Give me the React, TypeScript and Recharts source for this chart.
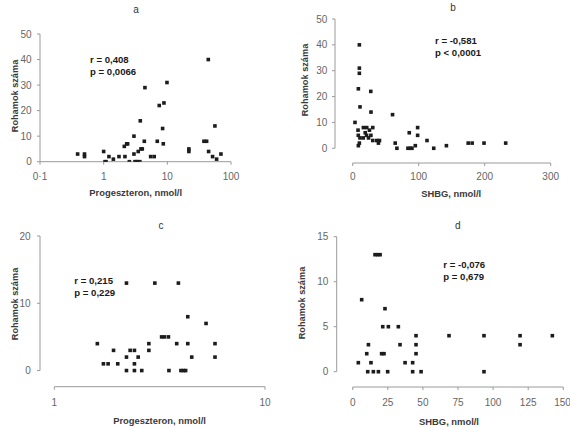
import React from 'react';
import { ScatterChart, Scatter, XAxis, YAxis, ReferenceLine } from 'recharts';

// ---- Panel a: Progeszteron (log) vs Rohamok száma ----
const aProg = [0.39, 0.5, 0.5, 1.0, 1.05, 1.09, 1.21, 1.42, 1.74, 2.11, 2.3, 2.38, 2.16, 2.53, 2.99, 2.99, 3.1, 3.25, 3.4, 3.7, 3.49, 3.76, 3.85, 4.04, 4.35, 4.45, 5.47, 6.22, 6.95, 7.47, 8.43, 8.64, 8.85, 9.87, 21.8, 21.8, 37.6, 41.4, 44, 44.5, 51.4, 55.9, 59.4, 69.5];
const aCount = [3, 3, 2, 4, 0, 0, 2, 1, 2, 6, 7, 7, 2, 0, 10, 3, 0, 0, 0, 0, 4, 16, 5, 5, 8, 29, 2, 2, 8, 22, 13, 7, 23, 31, 5, 4, 8, 8, 40, 4, 2, 14, 1, 3];

// ---- Panel b: SHBG vs Rohamok száma ----
const bShbg = [10.1, 10.1, 10.1, 8.6, 11.1, 27.4, 27.7, 60.4, 3.5, 8.1, 16.2, 21.3, 30.4, 8.5, 25.4, 27.6, 11, 21, 16, 30.4, 36.5, 39, 40.6, 8.6, 10.1, 64.4, 67, 83.7, 87.3, 89.8, 94.9, 85.7, 98.4, 98.4, 112.6, 122.8, 142, 175, 181, 199, 231.8, 19, 24];
const bCount = [40, 31, 29, 23, 16, 22, 14, 13, 10, 7, 8, 8, 8, 5, 7, 5, 4, 5, 4, 3, 3, 2, 3, 1, 2, 2, 0, 0, 0, 0, 1, 6, 8, 5, 3, 0, 1, 2, 2, 2, 2, 6, 4];

// ---- Panel c: Progeszteron (log) vs Rohamok száma ----
const cProg = [2.2, 3.0, 3.88, 4.3, 5.25, 3.23, 3.33, 3.48, 1.6, 2.81, 3.81, 4.3, 5.79, 1.91, 2.29, 2.4, 2.81, 2.2, 2.5, 4.49, 5.79, 1.71, 1.8, 2.0, 2.4, 2.2, 2.4, 2.6, 3.5, 3.99, 4.1, 4.2];
const cCount = [13, 13, 13, 8, 7, 5, 5, 5, 4, 4, 4, 4, 4, 3, 3, 3, 3, 2, 2, 2, 2, 1, 1, 1, 1, 0, 0, 0, 0, 0, 0, 0];

// ---- Panel d: SHBG vs Rohamok száma ----
const dShbg = [15.9, 17.8, 19.5, 6.4, 23, 21.4, 25.4, 32.5, 45.1, 68.6, 93.5, 119.2, 142.2, 11.2, 33.7, 45.1, 119.2, 10, 20.6, 22.3, 45.1, 4, 13, 37.3, 42.7, 10.7, 14.7, 18.3, 24.9, 42.7, 48.7, 93.5];
const dCount = [13, 13, 13, 8, 7, 5, 5, 5, 4, 4, 4, 4, 4, 3, 3, 3, 3, 2, 2, 2, 2, 1, 1, 1, 1, 0, 0, 0, 0, 0, 0, 0];

// ticks and labels
const aXTicks = [0.1, 1, 10, 100];
const aYTicks = [0, 10, 20, 30, 40, 50];
const bXTicks = [0, 100, 200, 300];
const bYTicks = [0, 10, 20, 30, 40, 50];
const cXTicks = [1, 10];
const cYTicks = [0, 10, 20];
const dXTicks = [0, 25, 50, 75, 100, 125, 150];
const dYTicks = [0, 5, 10, 15];

const panelLetters = ['a', 'b', 'c', 'd'];
const statsR = ['r = 0,408', 'r = -0,581', 'r = 0,215', 'r = -0,076'];
const statsP = ['p = 0,0066', 'p < 0,0001', 'p = 0,229', 'p = 0,679'];
const xTitles = ['Progeszteron, nmol/l', 'SHBG, nmol/l', 'Progeszteron, nmol/l', 'SHBG, nmol/l'];
const yTitle = 'Rohamok száma';

// domains (include the gap between the detached axes)
const aXDomain = [0.1, 100];
const aYDomain = [0, 50];
const bXDomain = [-26.8, 300];
const bYDomain = [-5.7, 50];
const cXDomain = [0.855, 10];
const cYDomain = [-2.4, 20];
const dXDomain = [-11.4, 150];
const dYDomain = [-1.7, 15];

const toPoints = (xs: number[], ys: number[]) => xs.map((x, i) => ({ x, y: ys[i] }));

const FONT = "'Liberation Sans', Arial, Helvetica, sans-serif";
const AXIS = '#9a9a9a';
const TICK_TXT = { fontSize: 10, fill: '#666', fontFamily: FONT };

const Square = (props: any) => {
  const { cx, cy } = props;
  if (cx == null || cy == null) return null;
  const s = 3.6;
  return <rect x={cx - s / 2} y={cy - s / 2} width={s} height={s} fill="#1c1c1c" />;
};

const fmtA = (v: number) => (v === 0.1 ? '0·1' : String(v));

export default function App() {
  return (
    <div style={{ position: 'absolute', left: 0, top: 0, width: 570, height: 428, background: '#fff', overflow: 'hidden' }}>
      {/* Panel a */}
      <div style={{ position: 'absolute', left: 0, top: 0 }}>
        <ScatterChart width={285} height={200} margin={{ top: 34, right: 54, bottom: 0, left: 0 }}>
          <XAxis type="number" dataKey="x" scale="log" domain={aXDomain} allowDataOverflow ticks={aXTicks}
            tickFormatter={fmtA} height={38.3} tickSize={3} tickMargin={7.7} stroke={AXIS}
            tick={TICK_TXT} axisLine={{ stroke: AXIS }} tickLine={{ stroke: AXIS }} />
          <YAxis type="number" dataKey="y" domain={aYDomain} allowDataOverflow ticks={aYTicks}
            width={40} tickSize={3} tickMargin={5.3} tick={TICK_TXT}
            axisLine={{ stroke: AXIS }} tickLine={{ stroke: AXIS }} />
          <Scatter data={toPoints(aProg, aCount)} shape={Square} isAnimationActive={false} />
        </ScatterChart>
      </div>

      {/* Panel b */}
      <div style={{ position: 'absolute', left: 285, top: 0 }}>
        <ScatterChart width={285} height={200} margin={{ top: 19, right: 19.3, bottom: 0, left: 0 }}>
          <XAxis type="number" dataKey="x" domain={bXDomain} allowDataOverflow ticks={bXTicks}
            height={37} tickSize={3} tickMargin={6.4} tick={TICK_TXT}
            axisLine={false} tickLine={{ stroke: AXIS }} />
          <YAxis type="number" dataKey="y" domain={bYDomain} allowDataOverflow ticks={bYTicks}
            width={50} tickSize={3} tickMargin={4.7} tick={TICK_TXT}
            axisLine={false} tickLine={{ stroke: AXIS }} />
          <ReferenceLine segment={[{ x: bXTicks[0], y: bYDomain[0] }, { x: bXTicks[bXTicks.length - 1], y: bYDomain[0] }]} stroke={AXIS} ifOverflow="visible" />
          <ReferenceLine segment={[{ x: bXDomain[0], y: bYTicks[0] }, { x: bXDomain[0], y: bYTicks[bYTicks.length - 1] }]} stroke={AXIS} ifOverflow="visible" />
          <Scatter data={toPoints(bShbg, bCount)} shape={Square} isAnimationActive={false} />
        </ScatterChart>
      </div>

      {/* Panel c */}
      <div style={{ position: 'absolute', left: 0, top: 200 }}>
        <ScatterChart width={285} height={228} margin={{ top: 36, right: 20, bottom: 0, left: 0 }}>
          <XAxis type="number" dataKey="x" scale="log" domain={cXDomain} allowDataOverflow ticks={cXTicks}
            height={41.3} tickSize={3} tickMargin={9} tick={TICK_TXT}
            axisLine={false} tickLine={{ stroke: AXIS }} />
          <YAxis type="number" dataKey="y" domain={cYDomain} allowDataOverflow ticks={cYTicks}
            width={40} tickSize={3} tickMargin={6.3} tick={TICK_TXT}
            axisLine={false} tickLine={{ stroke: AXIS }} />
          <ReferenceLine segment={[{ x: cXTicks[0], y: cYDomain[0] }, { x: cXTicks[cXTicks.length - 1], y: cYDomain[0] }]} stroke={AXIS} ifOverflow="visible" />
          <ReferenceLine segment={[{ x: cXDomain[0], y: cYTicks[0] }, { x: cXDomain[0], y: cYTicks[cYTicks.length - 1] }]} stroke={AXIS} ifOverflow="visible" />
          <Scatter data={toPoints(cProg, cCount)} shape={Square} isAnimationActive={false} />
        </ScatterChart>
      </div>

      {/* Panel d */}
      <div style={{ position: 'absolute', left: 285, top: 200 }}>
        <ScatterChart width={285} height={228} margin={{ top: 36.7, right: 6.7, bottom: 0, left: 0 }}>
          <XAxis type="number" dataKey="x" domain={dXDomain} allowDataOverflow ticks={dXTicks}
            height={41} tickSize={3} tickMargin={8.7} tick={TICK_TXT}
            axisLine={false} tickLine={{ stroke: AXIS }} />
          <YAxis type="number" dataKey="y" domain={dYDomain} allowDataOverflow ticks={dYTicks}
            width={51.7} tickSize={3} tickMargin={5.4} tick={TICK_TXT}
            axisLine={false} tickLine={{ stroke: AXIS }} />
          <ReferenceLine segment={[{ x: dXTicks[0], y: dYDomain[0] }, { x: dXTicks[dXTicks.length - 1], y: dYDomain[0] }]} stroke={AXIS} ifOverflow="visible" />
          <ReferenceLine segment={[{ x: dXDomain[0], y: dYTicks[0] }, { x: dXDomain[0], y: dYTicks[dYTicks.length - 1] }]} stroke={AXIS} ifOverflow="visible" />
          <Scatter data={toPoints(dShbg, dCount)} shape={Square} isAnimationActive={false} />
        </ScatterChart>
      </div>

      {/* Text overlay */}
      <svg width={570} height={428} style={{ position: 'absolute', left: 0, top: 0, pointerEvents: 'none' }}>
        <g fontFamily={FONT}>
          {[[136, 9], [453, 7], [161, 225], [457.7, 225]].map(([x, y], i) => (
            <text key={'l' + i} x={x} y={y} fontSize={10} fill="#333" textAnchor="middle" dominantBaseline="central">{panelLetters[i]}</text>
          ))}
          {[[90, 59.5, 71.5], [435, 40.7, 52.7], [74.3, 280, 292.3], [443.3, 264.3, 276.7]].map(([x, y1, y2], i) => (
            <g key={'s' + i} fontSize={9.6} fontWeight="bold" fill="#1a1a1a">
              <text x={x} y={y1} dominantBaseline="central">{statsR[i]}</text>
              <text x={x} y={y2} dominantBaseline="central">{statsP[i]}</text>
            </g>
          ))}
          {[[135.7, 192], [451.2, 193], [159.5, 420.7], [449, 421.7]].map(([x, y], i) => (
            <text key={'x' + i} x={x} y={y} fontSize={9.4} fontWeight="bold" fill="#3a3a3a" textAnchor="middle" dominantBaseline="central">{xTitles[i]}</text>
          ))}
          {[[15, 96], [305, 80], [15, 304], [302, 303]].map(([x, y], i) => (
            <text key={'y' + i} x={x} y={y} fontSize={9.2} fontWeight="bold" fill="#3a3a3a" textAnchor="middle" dominantBaseline="central" transform={`rotate(-90 ${x} ${y})`}>{yTitle}</text>
          ))}
        </g>
      </svg>
    </div>
  );
}
